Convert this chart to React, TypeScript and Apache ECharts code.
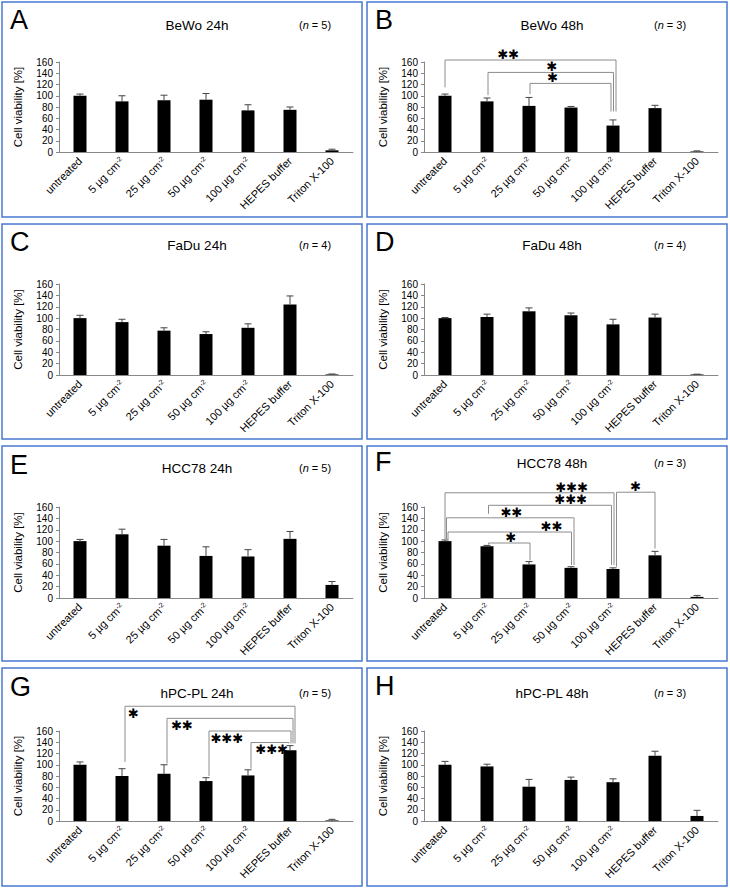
import React, { useEffect, useRef } from 'react';
import * as echarts from 'echarts';

// ---------- data ----------
const categories = ['untreated', '5 µg cm-2', '25 µg cm-2', '50 µg cm-2', '100 µg cm-2', 'HEPES buffer', 'Triton X-100'];
const yMin = 0;
const yMax = 160;
const yInterval = 20;

const panelLetters = ['A', 'B', 'C', 'D', 'E', 'F', 'G', 'H'];
const panelTitles = ['BeWo 24h', 'BeWo 48h', 'FaDu 24h', 'FaDu 48h', 'HCC78 24h', 'HCC78 48h', 'hPC-PL 24h', 'hPC-PL 48h'];
const panelN = [5, 3, 4, 4, 5, 3, 5, 3];

const bewo24 = [100, 90, 92, 93, 74, 75, 3];
const bewo24Err = [3, 10, 9, 11, 10, 5, 2];
const bewo48 = [100, 90, 82, 79, 47, 78, 1];
const bewo48Err = [3, 6, 15, 2, 10, 5, 1];
const fadu24 = [100, 93, 78, 72, 83, 124, 1];
const fadu24Err = [5, 5, 5, 4, 7, 15, 0.8];
const fadu48 = [100, 102, 112, 105, 89, 101, 1];
const fadu48Err = [1, 5, 6, 4, 9, 6, 0.5];
const hcc24 = [100, 112, 92, 74, 73, 104, 23];
const hcc24Err = [3, 9, 11, 16, 12, 13, 6];
const hcc48 = [100, 91, 59, 53, 51, 75, 2];
const hcc48Err = [2, 1.5, 5, 2, 2, 7, 2.5];
const hpc24 = [100, 80, 84, 71, 81, 126, 1];
const hpc24Err = [5, 13, 16, 6, 10, 8, 2];
const hpc48 = [100, 97, 61, 73, 69, 116, 9];
const hpc48Err = [6, 4, 13, 5, 6, 8, 10];

// significance brackets: category indices, bracket height and end heights in % units, number of stars
const bewo48Sig = [
  { from: 0, to: 4, fromY: 115, toY: 72, level: 163.5, stars: 2 },
  { from: 1, to: 4, fromY: 101, toY: 72, level: 141.5, stars: 1 },
  { from: 2, to: 4, fromY: 103, toY: 72, level: 122, stars: 1 },
];
const hcc48Sig = [
  { from: 0, to: 4, fromY: 102.5, toY: 58, level: 185, stars: 3 },
  { from: 1, to: 4, fromY: 148, toY: 58, level: 163, stars: 3 },
  { from: 0, to: 3, fromY: 102.5, toY: 58, level: 141, stars: 2 },
  { from: 0, to: 3, fromY: 102.5, toY: 58, level: 116, stars: 2 },
  { from: 1, to: 2, fromY: 94, toY: 66, level: 96.7, stars: 1 },
  { from: 4, to: 5, fromY: 55, toY: 87, level: 186, stars: 1 },
];
const hpc24Sig = [
  { from: 1, to: 5, fromY: 105, toY: 138, level: 204, stars: 1 },
  { from: 2, to: 5, fromY: 102, toY: 138, level: 182.5, stars: 2 },
  { from: 3, to: 5, fromY: 80, toY: 138, level: 160, stars: 3 },
  { from: 4, to: 5, fromY: 93, toY: 138, level: 139.5, stars: 3 },
];

const panelValues = [bewo24, bewo48, fadu24, fadu48, hcc24, hcc48, hpc24, hpc48];
const panelErrors = [bewo24Err, bewo48Err, fadu24Err, fadu48Err, hcc24Err, hcc48Err, hpc24Err, hpc48Err];
const panelSig: any[][] = [[], bewo48Sig, [], [], [], hcc48Sig, hpc24Sig, []];

// ---------- layout / style (not data) ----------
const FONT = '"Liberation Sans", Arial, Helvetica, sans-serif';
const BORDER = '#4a78d0';
const colX = [2, 367];
const rowY = [2, 224, 446, 668];
const rowH = [215, 215, 215, 218];
const gridTop = [62, 284, 507, 731];
const gridH = [90, 91, 91, 90];
const titleDy = [23, 23, 21, 21, 22, 17, 25, 25];
const letterDy = [18, 18, 18, 18, 19, 16, 19, 18];
// bracket end nudges (px) and star placement, per bracket
const sigLayout: any[][] = [
  [],
  [
    { dxFrom: 0, dxTo: 3, t: 0.37, side: 'above' },
    { dxFrom: 1, dxTo: 0.5, t: 0.51, side: 'above' },
    { dxFrom: 1, dxTo: -2, t: 0.28, side: 'above' },
  ],
  [], [], [],
  [
    { dxFrom: 0, dxTo: 1, t: 0.75, side: 'above' },
    { dxFrom: 1.5, dxTo: -1.5, t: 0.67, side: 'above' },
    { dxFrom: 1.5, dxTo: 3, t: 0.51, side: 'above' },
    { dxFrom: 3, dxTo: 0.5, t: 0.84, side: 'above' },
    { dxFrom: 1.5, dxTo: 1, t: 0.54, side: 'above' },
    { dxFrom: 3.5, dxTo: 0, t: 0.5, side: 'above' },
  ],
  [
    { dxFrom: 3, dxTo: 5, t: 0.05, side: 'below' },
    { dxFrom: 3, dxTo: 3, t: 0.12, side: 'below' },
    { dxFrom: 3, dxTo: 1, t: 0.22, side: 'below' },
    { dxFrom: 3, dxTo: -1, t: 0.55, side: 'below' },
  ],
  [],
];

const catFormatter = (v: string) =>
  v.endsWith('cm-2') ? `{a|${v.slice(0, -2)}}{s|-2}` : `{a|${v}}`;

function buildOption() {
  const grid: any[] = [];
  const xAxis: any[] = [];
  const yAxis: any[] = [];
  const series: any[] = [];
  const graphic: any[] = [];

  panelTitles.forEach((title, i) => {
    const col = i % 2;
    const row = Math.floor(i / 2);
    const px = colX[col];
    const py = rowY[row];

    graphic.push({
      type: 'rect',
      shape: { x: px, y: py, width: 360, height: rowH[row] },
      style: { fill: 'none', stroke: BORDER, lineWidth: 1.5 },
      z: 0,
    });
    graphic.push({
      type: 'text',
      x: px + 8,
      y: py + letterDy[i],
      style: { text: panelLetters[i], fontSize: 27, fontFamily: FONT, fill: '#000', align: 'left', verticalAlign: 'middle' },
    });
    graphic.push({
      type: 'text',
      x: px + (col === 0 ? 195 : 185),
      y: py + titleDy[i],
      style: { text: title, fontSize: 13.5, fontFamily: FONT, fill: '#000', align: 'center', verticalAlign: 'middle' },
    });
    graphic.push({
      type: 'text',
      x: px + (col === 0 ? 313 : 303),
      y: py + titleDy[i],
      style: {
        text: `({i|n} = ${panelN[i]})`,
        fontSize: 11,
        fontFamily: FONT,
        fill: '#000',
        align: 'center',
        verticalAlign: 'middle',
        rich: { i: { fontStyle: 'italic', fontSize: 11, fontFamily: FONT, fill: '#000' } },
      },
    });

    grid.push({ left: px + 57, top: gridTop[row], width: 294, height: gridH[row] });
    xAxis.push({
      type: 'category',
      gridIndex: i,
      data: categories,
      axisLine: { show: true, lineStyle: { color: '#888', width: 1 } },
      axisTick: { show: false },
      axisLabel: {
        rotate: 45,
        interval: 0,
        margin: 7,
        fontSize: 11,
        color: '#000',
        fontFamily: FONT,
        formatter: catFormatter,
        rich: {
          a: { fontSize: 11, fontFamily: FONT, color: '#000' },
          s: { fontSize: 7, fontFamily: FONT, color: '#000', verticalAlign: 'top' },
        },
      },
      splitLine: { show: false },
    });
    yAxis.push({
      type: 'value',
      gridIndex: i,
      min: yMin,
      max: yMax,
      interval: yInterval,
      name: 'Cell viability [%]',
      nameLocation: 'middle',
      nameGap: 35,
      nameTextStyle: { fontSize: 11.5, color: '#000', fontFamily: FONT },
      axisLine: { show: true, lineStyle: { color: '#888', width: 1 } },
      axisTick: { show: true, length: 3, lineStyle: { color: '#888' } },
      axisLabel: { fontSize: 10, color: '#000', margin: 6, fontFamily: FONT },
      splitLine: { show: false },
    });

    series.push({
      type: 'bar',
      xAxisIndex: i,
      yAxisIndex: i,
      data: panelValues[i],
      barWidth: 13,
      itemStyle: { color: '#000' },
      z: 2,
    });

    const errs = panelErrors[i];
    series.push({
      type: 'custom',
      xAxisIndex: i,
      yAxisIndex: i,
      z: 3,
      clip: false,
      data: panelValues[i].map((v, k) => [k, v, errs[k]]),
      renderItem: (params: any, api: any) => {
        const x = api.value(0);
        const v = api.value(1);
        const e = api.value(2);
        const top = api.coord([x, v + e]);
        const base = api.coord([x, v]);
        return {
          type: 'group',
          children: [
            { type: 'line', shape: { x1: top[0], y1: top[1], x2: base[0], y2: base[1] }, style: { stroke: '#444', lineWidth: 1 } },
            { type: 'line', shape: { x1: top[0] - 3.5, y1: top[1], x2: top[0] + 3.5, y2: top[1] }, style: { stroke: '#444', lineWidth: 1 } },
          ],
        };
      },
    });

    const sig = panelSig[i];
    if (sig.length) {
      const lay = sigLayout[i];
      series.push({
        type: 'custom',
        xAxisIndex: i,
        yAxisIndex: i,
        z: 4,
        clip: false,
        data: sig.map((b) => [b.from, b.level]),
        renderItem: (params: any, api: any) => {
          const b = sig[params.dataIndex];
          const L = lay[params.dataIndex];
          const pFrom = api.coord([b.from, b.fromY]);
          const pTo = api.coord([b.to, b.toY]);
          const lv = api.coord([b.from, b.level])[1];
          const x1 = pFrom[0] + L.dxFrom;
          const x2 = pTo[0] + L.dxTo;
          const tx = x1 + (x2 - x1) * L.t;
          const ty = L.side === 'above' ? lv - 5.5 : lv + 7;
          return {
            type: 'group',
            children: [
              {
                type: 'polyline',
                shape: { points: [[x1, pFrom[1]], [x1, lv], [x2, lv], [x2, pTo[1]]] },
                style: { stroke: '#8c8c8c', lineWidth: 1, fill: 'none' },
              },
              {
                type: 'text',
                x: tx,
                y: ty,
                style: {
                  text: '✱'.repeat(b.stars),
                  fontSize: 13,
                  lineHeight: 9,
                  fontFamily: '"DejaVu Sans", sans-serif',
                  fill: '#000',
                  align: 'center',
                  verticalAlign: 'middle',
                },
              },
            ],
          };
        },
      });
    }
  });

  return {
    animation: false,
    backgroundColor: '#fff',
    textStyle: { fontFamily: FONT },
    grid,
    xAxis,
    yAxis,
    series,
    graphic,
  };
}

export default function App() {
  const ref = useRef<HTMLDivElement>(null);
  useEffect(() => {
    if (!ref.current) return;
    const chart = echarts.init(ref.current, undefined, { renderer: 'svg' });
    chart.setOption(buildOption() as any);
    return () => chart.dispose();
  }, []);
  return (
    <div
      ref={ref}
      style={{ position: 'absolute', left: 0, top: 0, width: 730, height: 889, background: '#fff' }}
    />
  );
}
